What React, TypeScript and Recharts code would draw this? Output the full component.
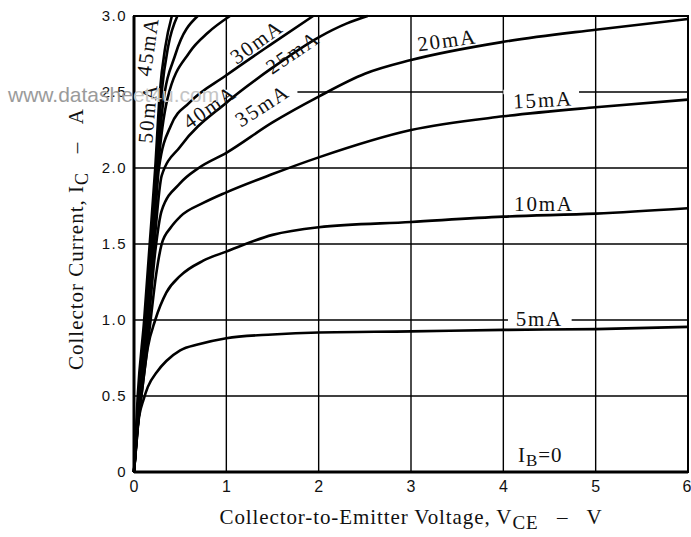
import React from 'react';
import {
  LineChart, Line, XAxis, YAxis, CartesianGrid, ReferenceArea, ReferenceDot,
} from 'recharts';

const W = 691;
const H = 537;
const SERIF = '"Liberation Serif", "Times New Roman", serif';
const SANS = '"Liberation Sans", Arial, sans-serif';

const vceTicks = [0, 1, 2, 3, 4, 5, 6];
const icTicks = [0, 0.5, 1, 1.5, 2, 2.5, 3];

// [Vce (V), Ic (A)], one list per base current
const ib5mA = [[0, 0], [0.03, 0.25], [0.06, 0.38], [0.1, 0.47], [0.15, 0.56], [0.25, 0.66], [0.35, 0.73], [0.5, 0.8], [0.7, 0.84], [1, 0.88], [1.5, 0.905], [2, 0.918], [3, 0.925], [4, 0.935], [5, 0.94], [6, 0.955]];
const ib10mA = [[0, 0], [0.04, 0.3], [0.08, 0.5], [0.15, 0.82], [0.23, 1.0], [0.35, 1.18], [0.5, 1.29], [0.75, 1.39], [1, 1.45], [1.5, 1.56], [2, 1.61], [3, 1.645], [4, 1.68], [5, 1.7], [6, 1.735]];
const ib15mA = [[0, 0], [0.04, 0.3], [0.08, 0.5], [0.18, 1.0], [0.24, 1.3], [0.3, 1.5], [0.4, 1.61], [0.5, 1.68], [0.75, 1.77], [1, 1.84], [1.5, 1.96], [2, 2.07], [3, 2.25], [4, 2.34], [5, 2.4], [6, 2.45]];
const ib20mA = [[0, 0], [0.07, 0.5], [0.16, 1.0], [0.23, 1.45], [0.3, 1.72], [0.5, 1.9], [0.7, 2.0], [1, 2.1], [1.5, 2.3], [2, 2.47], [2.5, 2.62], [3, 2.71], [4, 2.83], [5, 2.91], [6, 2.98]];
const ib25mA = [[0, 0], [0.07, 0.5], [0.15, 1.0], [0.22, 1.5], [0.3, 1.95], [0.5, 2.14], [1, 2.43], [1.5, 2.66], [2, 2.86], [2.3, 2.95], [2.53, 3.0]];
const ib30mA = [[0, 0], [0.06, 0.5], [0.14, 1.0], [0.21, 1.5], [0.27, 2.0], [0.4, 2.28], [0.6, 2.43], [1, 2.61], [1.5, 2.82], [1.94, 3.0]];
const ib35mA = [[0, 0], [0.06, 0.5], [0.13, 1.0], [0.2, 1.5], [0.26, 2.0], [0.36, 2.45], [0.6, 2.76], [0.8, 2.89], [1.04, 3.0]];
const ib40mA = [[0, 0], [0.05, 0.5], [0.12, 1.0], [0.19, 1.5], [0.25, 2.0], [0.31, 2.4], [0.45, 2.75], [0.69, 3.0]];
const ib45mA = [[0, 0], [0.05, 0.5], [0.12, 1.0], [0.18, 1.5], [0.24, 2.0], [0.3, 2.5], [0.37, 2.8], [0.47, 3.0]];
const ib50mA = [[0, 0], [0.04, 0.5], [0.11, 1.0], [0.17, 1.5], [0.23, 2.0], [0.28, 2.5], [0.34, 2.8], [0.41, 3.0]];

const curves = [ib5mA, ib10mA, ib15mA, ib20mA, ib25mA, ib30mA, ib35mA, ib40mA, ib45mA, ib50mA];

// curve labels, centred at (v, i), angle in degrees
const curveLabels = [
  { text: '5mA', v: 4.39, i: 1.005, angle: 0 },
  { text: '10mA', v: 4.44, i: 1.766, angle: 0 },
  { text: '15mA', v: 4.43, i: 2.447, angle: -3 },
  { text: '20mA', v: 3.39, i: 2.84, angle: -8 },
  { text: '25mA', v: 1.72, i: 2.76, angle: -34 },
  { text: '30mA', v: 1.33, i: 2.83, angle: -36 },
  { text: '35mA', v: 1.39, i: 2.41, angle: -33 },
  { text: '40mA', v: 0.82, i: 2.4, angle: -35 },
  { text: '45mA', v: 0.15, i: 2.8, angle: -82 },
  { text: '50mA', v: 0.15, i: 2.36, angle: -85 },
];

// bits of grid line hidden behind labels / watermark
const gridGaps = [
  { x1: 0, x2: 1.77, y1: 2.485, y2: 2.515 },
  { x1: 4.0, x2: 4.82, y1: 2.485, y2: 2.515 },
  { x1: 4.05, x2: 4.74, y1: 0.985, y2: 1.015 },
];

const toPoints = (pts: number[][]) => pts.map(([v, i]) => ({ v, i }));

function CurveLabel({ cx, cy, text, angle }: any) {
  return (
    <text
      x={cx}
      y={cy}
      transform={`rotate(${angle}, ${cx}, ${cy})`}
      textAnchor="middle"
      dominantBaseline="central"
      fontFamily={SERIF}
      fontSize={21}
      letterSpacing={1.8}
      fill="#111"
    >
      {text}
    </text>
  );
}

function IbZero({ cx, cy }: any) {
  return (
    <text x={cx} y={cy} textAnchor="middle" dominantBaseline="central" fontFamily={SERIF} fontSize={21} letterSpacing={1} fill="#111">
      I<tspan dy={5} fontSize={17}>B</tspan><tspan dy={-5}>=0</tspan>
    </text>
  );
}

function XTitle({ viewBox }: any) {
  const cx = viewBox.x + viewBox.width / 2;
  return (
    <text x={cx} y={524} textAnchor="middle" fontFamily={SERIF} fontSize={21} letterSpacing={0.9} fill="#111" style={{ whiteSpace: 'pre' }}>
      Collector-to-Emitter Voltage, V<tspan dy={5} fontSize={19}>CE</tspan><tspan dy={-5}>{'   –   V'}</tspan>
    </text>
  );
}

function YTitle() {
  const x = 83;
  const y = 239;
  return (
    <text x={x} y={y} transform={`rotate(-90, ${x}, ${y})`} textAnchor="middle" fontFamily={SERIF} fontSize={21} letterSpacing={1} fill="#111" style={{ whiteSpace: 'pre' }}>
      Collector Current, I<tspan dy={5} fontSize={18}>C</tspan><tspan dy={-5}>{'   –   A'}</tspan>
    </text>
  );
}

const watermark = 'www.datasheet4u.com';

export default function App() {
  return (
    <div style={{ position: 'absolute', left: 0, top: 0, width: W, height: H, background: '#fff' }}>
      <LineChart width={W} height={H} margin={{ top: 16, right: 3, bottom: 0, left: 0 }}>
        <CartesianGrid stroke="#000" strokeWidth={1.4} />
        <XAxis
          type="number"
          dataKey="v"
          domain={[0, 6]}
          ticks={vceTicks}
          height={65}
          tickLine={false}
          tickSize={6}
          tickMargin={3}
          axisLine={{ stroke: '#000', strokeWidth: 3 }}
          tick={{ fontFamily: SANS, fontSize: 16, fill: '#111' }}
          label={{ content: XTitle }}
        />
        <YAxis
          type="number"
          dataKey="i"
          domain={[0, 3]}
          ticks={icTicks}
          width={134}
          tickLine={false}
          tickSize={5}
          tickMargin={2}
          axisLine={{ stroke: '#000', strokeWidth: 3 }}
          tick={{ fontFamily: SANS, fontSize: 15, fill: '#111', letterSpacing: 1.5 }}
          tickFormatter={(t: number) => (t === 0 ? '0' : t.toFixed(1))}
          label={{ content: YTitle }}
        />
        {gridGaps.map((g, k) => (
          <ReferenceArea key={`gap${k}`} {...g} fill="#fff" fillOpacity={1} stroke="none" />
        ))}
        <ReferenceArea x1={0} x2={6} y1={0} y2={3} fill="none" stroke="#000" strokeWidth={2} />
        {curves.map((c, k) => (
          <Line
            key={k}
            data={toPoints(c)}
            dataKey="i"
            type="monotone"
            stroke="#000"
            strokeWidth={2.6}
            dot={false}
            activeDot={false}
            isAnimationActive={false}
          />
        ))}
        {curveLabels.map((l) => (
          <ReferenceDot
            key={l.text}
            x={l.v}
            y={l.i}
            r={0}
            shape={(p: any) => <CurveLabel {...p} text={l.text} angle={l.angle} />}
          />
        ))}
        <ReferenceDot x={4.4} y={0.11} r={0} shape={(p: any) => <IbZero {...p} />} />
      </LineChart>
      {/* watermark: darker left of the plot, faint over it */}
      <svg width={W} height={H} style={{ position: 'absolute', left: 0, top: 0, pointerEvents: 'none' }}>
        <defs>
          <linearGradient id="wm" gradientUnits="userSpaceOnUse" x1={0} y1={0} x2={W} y2={0}>
            <stop offset={134 / W} stopColor="#9a9a9a" />
            <stop offset={134 / W} stopColor="#c4c4c4" />
          </linearGradient>
        </defs>
        <text x={8} y={102} fontFamily={SANS} fontSize={21} fill="url(#wm)">{watermark}</text>
      </svg>
    </div>
  );
}
